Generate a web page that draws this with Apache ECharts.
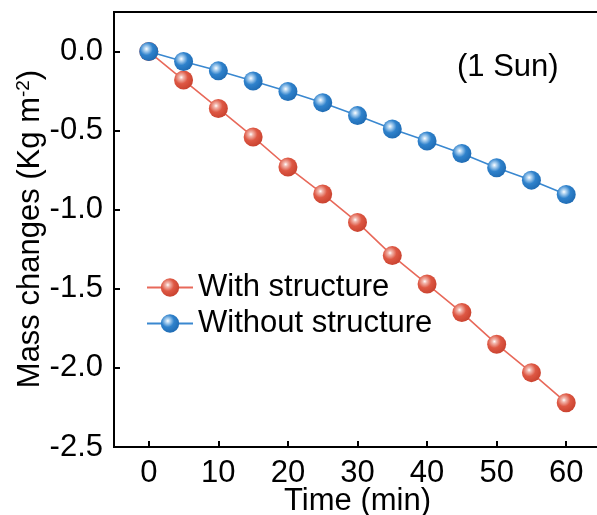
<!DOCTYPE html>
<html>
<head>
<meta charset="utf-8">
<script src="https://cdn.jsdelivr.net/npm/echarts@6/dist/echarts.min.js"></script>
<style>html,body{margin:0;padding:0;background:#fff}#c{width:597px;height:515px}</style>
</head>
<body>
<div id="c"></div>
<script>
const times = [0, 5, 10, 15, 20, 25, 30, 35, 40, 45, 50, 55, 60];
const withStructure = [0, -0.18, -0.36, -0.54, -0.73, -0.90, -1.08, -1.29, -1.47, -1.65, -1.85, -2.03, -2.22];
const withoutStructure = [0, -0.063, -0.122, -0.186, -0.253, -0.323, -0.405, -0.49, -0.566, -0.644, -0.735, -0.813, -0.904];
const xTicks = [0, 10, 20, 30, 40, 50, 60];
const yTicks = [-2.5, -2.0, -1.5, -1.0, -0.5, 0.0];
const seriesNames = ['With structure', 'Without structure'];

const FONT = 'Liberation Sans, Arial, sans-serif';
const FS = 31;

function ball(base, light, dark) {
  return {
    type: 'radial', x: 0.38, y: 0.36, r: 0.68,
    colorStops: [
      { offset: 0, color: '#ffffff' },
      { offset: 0.16, color: light },
      { offset: 0.5, color: base },
      { offset: 1, color: dark }
    ]
  };
}

const chart = echarts.init(document.getElementById('c'), null, { renderer: 'canvas' });
chart.setOption({
  animation: false,
  backgroundColor: '#ffffff',
  grid: { left: 114, right: -4, top: 12, bottom: 68, containLabel: false, outerBoundsMode: 'none',
    show: true, borderColor: '#000', borderWidth: 2, backgroundColor: 'transparent' },
  title: {
    text: '(1 Sun)', left: 457, top: 52, padding: 0,
    textStyle: { fontFamily: FONT, fontSize: FS, fontWeight: 'normal', color: '#000' }
  },
  legend: {
    orient: 'vertical', left: 146, top: 272, padding: 0,
    itemWidth: 46, itemHeight: 23, itemGap: 5,
    textStyle: { fontFamily: FONT, fontSize: FS, color: '#000', lineHeight: 31 },
    data: seriesNames
  },
  xAxis: {
    type: 'value', min: -5, max: 65,
    name: 'Time (min)', nameLocation: 'middle', nameGap: 39, nameMoveOverlap: false,
    nameTextStyle: { fontFamily: FONT, fontSize: FS, color: '#000' },
    axisLine: { onZero: false, lineStyle: { color: '#000', width: 2 } },
    axisTick: { inside: true, length: 6, customValues: xTicks, lineStyle: { color: '#000', width: 2 } },
    axisLabel: { customValues: xTicks, margin: 11, fontFamily: FONT, fontSize: FS, color: '#000' },
    splitLine: { show: false }
  },
  yAxis: {
    type: 'value', min: -2.5, max: 0.25,
    axisLine: { show: true, onZero: false, lineStyle: { color: '#000', width: 2 } },
    axisTick: { show: true, inside: true, length: 6, customValues: yTicks, lineStyle: { color: '#000', width: 2 } },
    axisLabel: { customValues: yTicks, margin: 11, fontFamily: FONT, fontSize: FS, color: '#000',
      formatter: v => v.toFixed(1) },
    splitLine: { show: false }
  },
  graphic: [{
    type: 'text', x: 30, y: 229, rotation: Math.PI / 2,
    style: {
      text: 'Mass changes (Kg m{sup|-2})',
      fontFamily: FONT, fontSize: FS, fill: '#000',
      align: 'center', verticalAlign: 'middle',
      rich: { sup: { fontFamily: FONT, fontSize: 19, fill: '#000', verticalAlign: 'top', padding: [0, 0, 10, 0] } }
    }
  }],
  series: [
    {
      name: seriesNames[0], type: 'line',
      data: times.map((t, i) => [t, withStructure[i]]),
      symbol: 'circle', symbolSize: 19,
      lineStyle: { color: '#E8695A', width: 1.6 },
      itemStyle: { color: ball('#DE5844', '#F2B7AD', '#C8412E'), borderWidth: 0 },
      z: 2
    },
    {
      name: seriesNames[1], type: 'line',
      data: times.map((t, i) => [t, withoutStructure[i]]),
      symbol: 'circle', symbolSize: 19,
      lineStyle: { color: '#3A88D0', width: 1.6 },
      itemStyle: { color: ball('#2F82CC', '#B5D6F2', '#1E6AB2'), borderWidth: 0 },
      z: 3
    }
  ]
});
</script>
</body>
</html>
